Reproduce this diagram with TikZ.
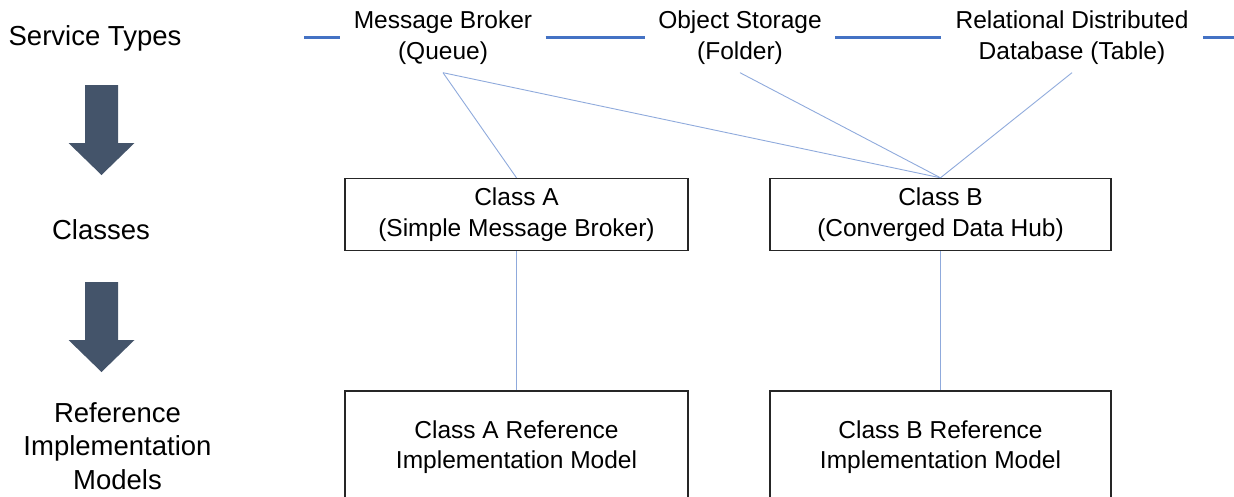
\documentclass[tikz,border=0pt]{standalone}
\usepackage{fontspec}
\setmainfont{Liberation Sans}
\definecolor{bandblue}{HTML}{4472C4}
\definecolor{linkblue}{HTML}{8FAADC}
\definecolor{arrowslate}{HTML}{44546A}
\definecolor{boxline}{HTML}{262626}
\begin{document}
\begin{tikzpicture}[x=1pt,y=-1pt,
  svc/.style={inner sep=0pt,minimum height=70pt,align=center,font=\fontsize{24.5}{30.5}\selectfont},
  cls/.style={draw=boxline,line width=1.4pt,inner sep=0pt,align=center,font=\fontsize{24.5}{30.5}\selectfont},
  lbl/.style={inner sep=0pt,align=center,font=\fontsize{27.5}{33.5}\selectfont},
  band/.style={draw=bandblue,line width=3.5pt},
  link/.style={draw=linkblue,line width=0.9pt},
  bigarrow/.style={fill=arrowslate,draw=none}]
\useasboundingbox (0,0) rectangle (1234,496);
\clip (0,0) rectangle (1234,496);
% left labels
\node[lbl] (st) at (95,38) {Service Types};
\node[lbl] (cl) at (101,230) {Classes};
\node[lbl] (rim) at (117.5,446) {Reference\\Implementation\\Models};
% big arrows
\fill[bigarrow] (85,85) -- (118,85) -- (118,143) -- (134.5,143) -- (101.5,175) -- (68.5,143) -- (85,143) -- cycle;
\fill[bigarrow] (85,282) -- (118,282) -- (118,340) -- (134.5,340) -- (101.5,372) -- (68.5,340) -- (85,340) -- cycle;
% service types
\node[svc,minimum width=205pt] (mb) at (443,37.5) {Message Broker\\(Queue)};
\node[svc,minimum width=190pt] (os) at (740,37.5) {Object Storage\\(Folder)};
\node[svc,minimum width=262pt] (rd) at (1072,37.5) {Relational Distributed\\Database (Table)};
\coordinate (bandL) at (304,37.5);
\coordinate (bandR) at (1240,37.5);
\draw[band] (bandL) -- (mb.west);
\draw[band] (mb.east) -- (os.west);
\draw[band] (os.east) -- (rd.west);
\draw[band] (rd.east) -- (bandR);
% classes
\node[cls,minimum width=343pt,minimum height=72pt] (ca) at (516.5,214.5) {Class A\\(Simple Message Broker)};
\node[cls,minimum width=341pt,minimum height=72pt] (cb) at (940.5,214.5) {Class B\\(Converged Data Hub)};
% reference implementation models
\node[cls,minimum width=343pt,minimum height=112pt] (ra) at (516.5,447) {Class A Reference\\Implementation Model};
\node[cls,minimum width=341pt,minimum height=112pt] (rb) at (940.5,447) {Class B Reference\\Implementation Model};
% links
\draw[link] (mb.south) -- (ca.north);
\draw[link] (mb.south) -- (cb.north);
\draw[link] (os.south) -- (cb.north);
\draw[link] (rd.south) -- (cb.north);
\draw[link] (ca.south) -- (ra.north);
\draw[link] (cb.south) -- (rb.north);
\end{tikzpicture}
\end{document}
